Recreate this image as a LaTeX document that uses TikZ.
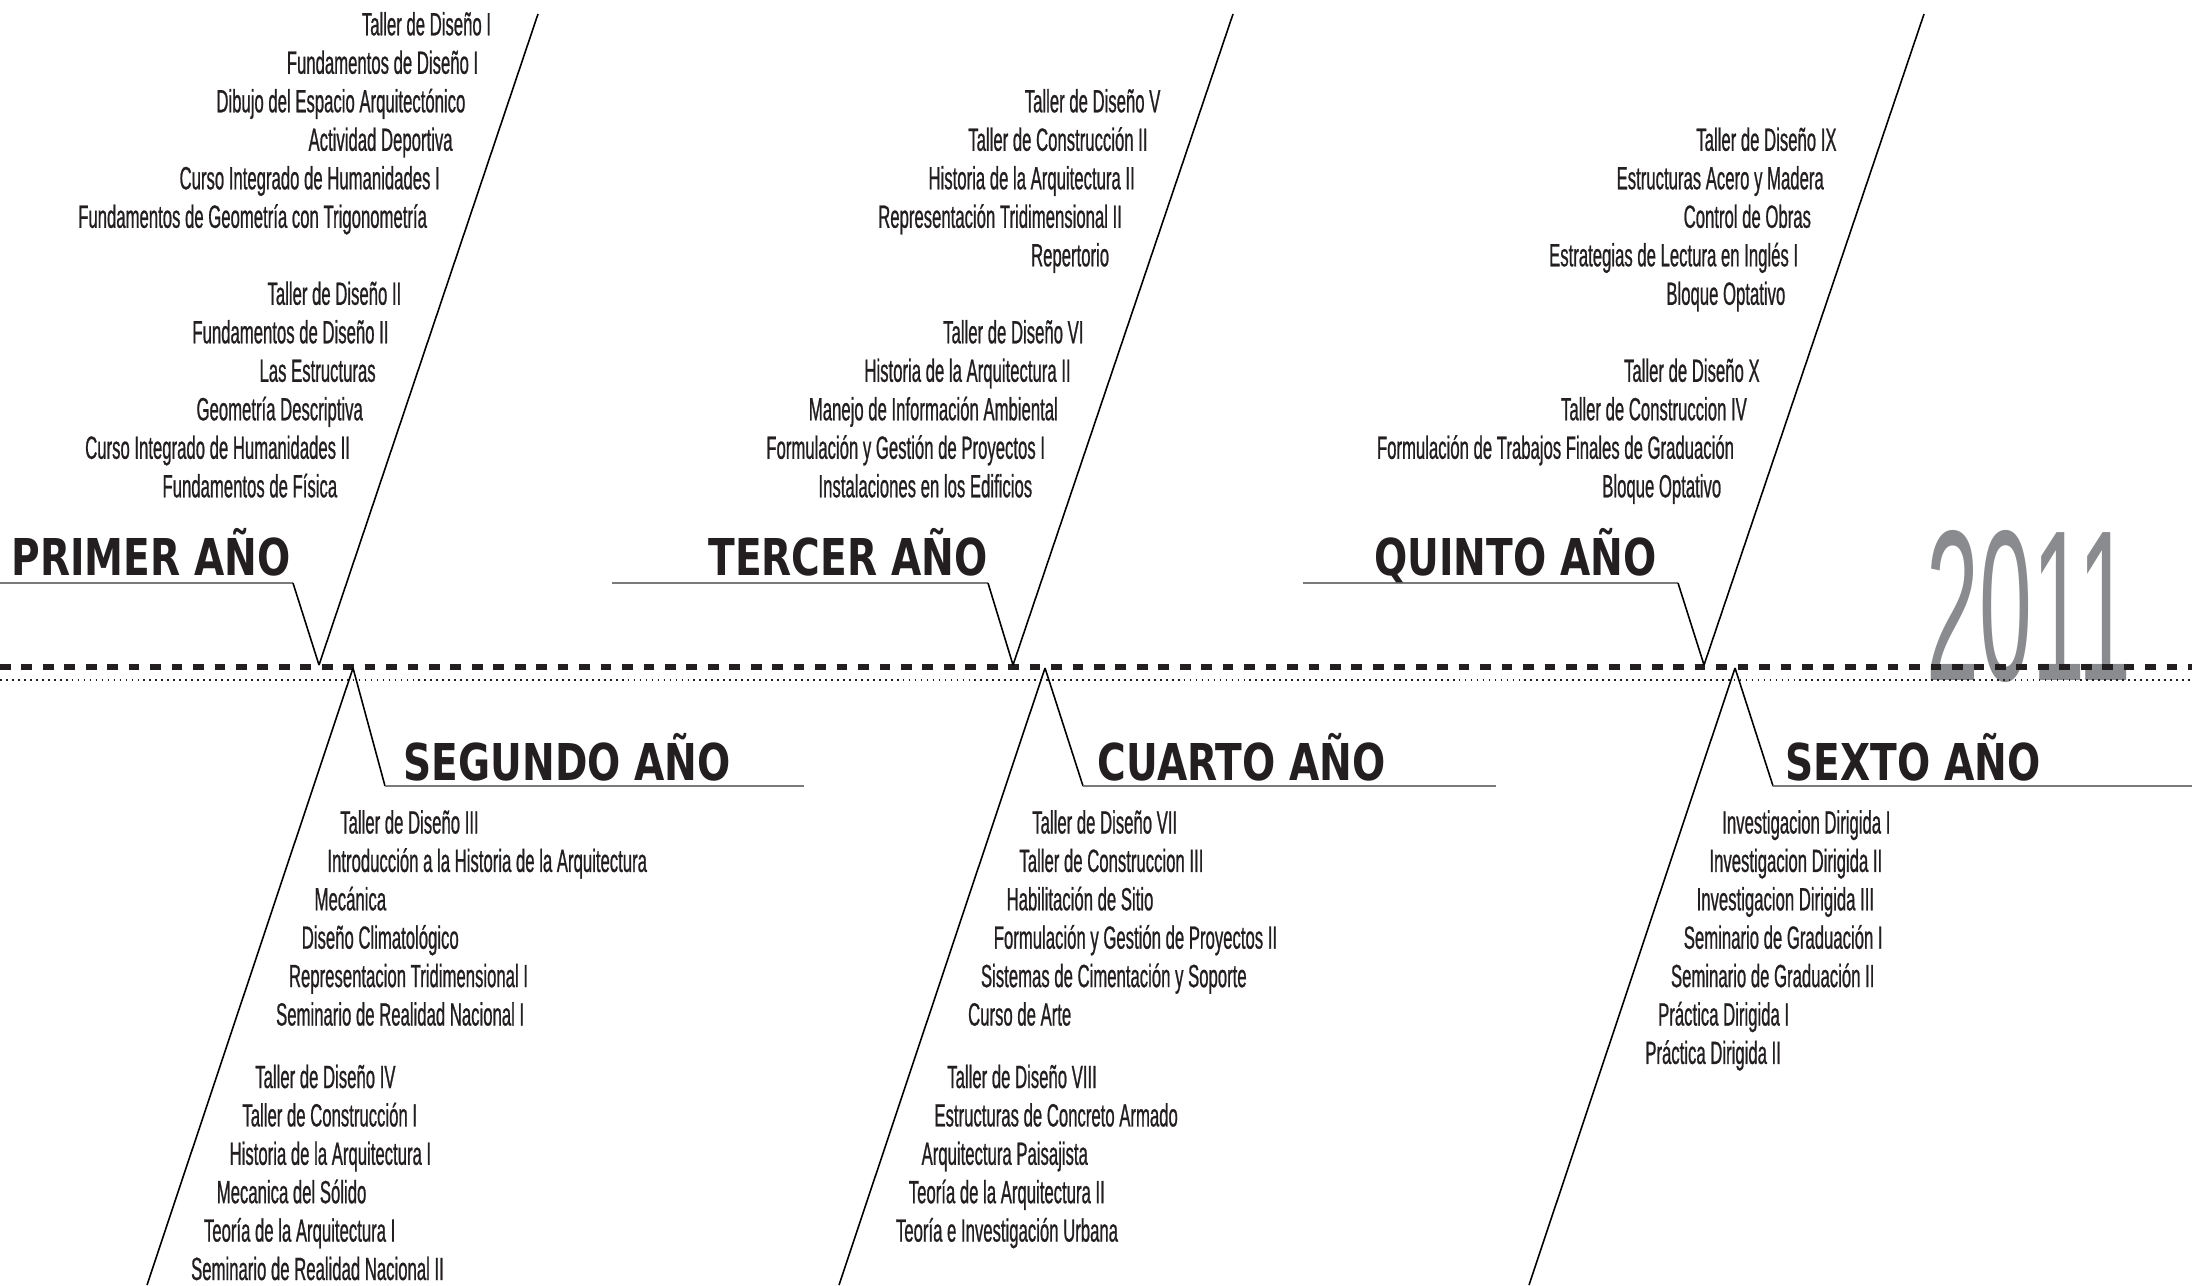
\documentclass[tikz,border=0pt]{standalone}
\usepackage{fontspec}
\usepackage{graphicx}
\newfontfamily\listfont[FakeStretch=0.52,FakeBold=0.7]{Liberation Sans}
\newfontfamily\titlefont[FakeStretch=0.77]{DejaVu Sans Bold}
\newfontfamily\yearfont{Liberation Sans}
\definecolor{ink}{HTML}{231F20}
\definecolor{yeargray}{HTML}{8A8B8E}
\definecolor{rulegray}{HTML}{7A7A7A}
\begin{document}
\begin{tikzpicture}[x=0.01cm,y=-0.01cm,
  itemR/.style={anchor=base east, inner sep=0pt, text=ink, font={\listfont\fontsize{9.14}{11}\selectfont}},
  itemL/.style={anchor=base west, inner sep=0pt, text=ink, font={\listfont\fontsize{9.14}{11}\selectfont}},
  titleU/.style={anchor=base east, inner sep=0pt, text=ink, font={\titlefont\fontsize{14.44}{16}\selectfont}},
  titleL/.style={anchor=base west, inner sep=0pt, text=ink, font={\titlefont\fontsize{14.44}{16}\selectfont}},
  diag/.style={black, line width=0.45pt},
  rulegr/.style={rulegray, line width=0.6pt},
  timeline/.style={ink, line width=1.7pt, dash pattern=on 3.05pt off 3.05pt},
  dotline/.style={ink, line width=0.5pt, dash pattern=on 0.5pt off 1.2pt}]
\useasboundingbox (0,0) rectangle (2192,1285);

% year
\node[anchor=south west, inner sep=0pt, text=yeargray] (year) at (1926,683) {\resizebox{2.04cm}{1.50cm}{\yearfont 2011}};

% timeline
\coordinate (tlA) at (0,667);
\coordinate (tlB) at (2192,667);
\coordinate (dlA) at (0,680);
\coordinate (dlB) at (2192,680);
\draw[timeline] (tlA) -- (tlB);
\draw[dotline] (dlA) -- (dlB);

% upper sections
\coordinate (u1top) at (538,14);   \coordinate (u1) at (319,665);
\coordinate (u1ra) at (0,583);     \coordinate (u1rb) at (293,583);
\coordinate (u2top) at (1233,14);  \coordinate (u2) at (1013,665);
\coordinate (u2ra) at (612,583);   \coordinate (u2rb) at (988,583);
\coordinate (u3top) at (1924,14);  \coordinate (u3) at (1704,665);
\coordinate (u3ra) at (1303,583);  \coordinate (u3rb) at (1678,583);
\foreach \k in {1,2,3}{
  \draw[diag] (u\k top) -- (u\k);
  \draw[rulegr] (u\k ra) -- (u\k rb);
  \draw[diag] (u\k rb) -- (u\k);
}

% lower sections
\coordinate (l1) at (353,668);   \coordinate (l1bot) at (147,1285);
\coordinate (l1ra) at (385,786); \coordinate (l1rb) at (804,786);
\coordinate (l2) at (1045,668);  \coordinate (l2bot) at (839,1285);
\coordinate (l2ra) at (1083,786); \coordinate (l2rb) at (1496,786);
\coordinate (l3) at (1735,668);  \coordinate (l3bot) at (1529,1285);
\coordinate (l3ra) at (1773,786); \coordinate (l3rb) at (2192,786);
\foreach \k in {1,2,3}{
  \draw[diag] (l\k) -- (l\k bot);
  \draw[diag] (l\k) -- (l\k ra);
  \draw[rulegr] (l\k ra) -- (l\k rb);
}

% titles
\node[titleU] (t1) at (291,575) {PRIMER AÑO};
\node[titleU] (t3) at (988,575) {TERCER AÑO};
\node[titleU] (t5) at (1657,575) {QUINTO AÑO};
\node[titleL] (t2) at (403,780) {SEGUNDO AÑO};
\node[titleL] (t4) at (1097,780) {CUARTO AÑO};
\node[titleL] (t6) at (1785,780) {SEXTO AÑO};

% upper lists
\foreach \i/\t [count=\n] in {0/Taller de Diseño I, 1/Fundamentos de Diseño I, 2/Dibujo del Espacio Arquitectónico, 3/Actividad Deportiva, 4/Curso Integrado de Humanidades I, 5/Fundamentos de Geometría con Trigonometría, 7/Taller de Diseño II, 8/Fundamentos de Diseño II, 9/Las Estructuras, 10/Geometría Descriptiva, 11/Curso Integrado de Humanidades II, 12/Fundamentos de Física}
  \node[itemR] (pa\n) at ({538-0.333*(23.8+38.5*\i-14)-43},{35.3+38.5*\i}) {\t};

\foreach \i/\t [count=\n] in {2/Taller de Diseño V, 3/Taller de Construcción II, 4/Historia de la Arquitectura II, 5/Representación Tridimensional II, 6/Repertorio, 8/Taller de Diseño VI, 9/Historia de la Arquitectura II, 10/Manejo de Información Ambiental, 11/Formulación y Gestión de Proyectos I, 12/Instalaciones en los Edificios}
  \node[itemR] (ta\n) at ({1233-0.333*(23.8+38.5*\i-14)-43},{35.3+38.5*\i}) {\t};

\foreach \i/\t [count=\n] in {3/Taller de Diseño IX, 4/Estructuras Acero y Madera, 5/Control de Obras, 6/Estrategias de Lectura en Inglés I, 7/Bloque Optativo, 9/Taller de Diseño X, 10/Taller de Construccion IV, 11/Formulación de Trabajos Finales de Graduación, 12/Bloque Optativo}
  \node[itemR] (qa\n) at ({1924-0.333*(23.8+38.5*\i-14)-45},{35.3+38.5*\i}) {\t};

% lower lists
\foreach \y/\t [count=\n] in {822/Taller de Diseño III, 860.4/Introducción a la Historia de la Arquitectura, 898.8/Mecánica, 937.2/Diseño Climatológico, 975.6/Representacion Tridimensional I, 1014/Seminario de Realidad Nacional I, 1076.5/Taller de Diseño IV, 1114.9/Taller de Construcción I, 1153.3/Historia de la Arquitectura I, 1191.7/Mecanica del Sólido, 1230.1/Teoría de la Arquitectura I, 1268.5/Seminario de Realidad Nacional II}
  \node[itemL] (sa\n) at ({353-0.334*(\y-668)+38},{\y+11.5}) {\t};

\foreach \y/\t [count=\n] in {822/Taller de Diseño VII, 860.4/Taller de Construccion III, 898.8/Habilitación de Sitio, 937.2/Formulación y Gestión de Proyectos II, 975.6/Sistemas de Cimentación y Soporte, 1014/Curso de Arte, 1076.5/Taller de Diseño VIII, 1114.9/Estructuras de Concreto Armado, 1153.3/Arquitectura Paisajista, 1191.7/Teoría de la Arquitectura II, 1230.1/Teoría e Investigación Urbana}
  \node[itemL] (ca\n) at ({1045-0.334*(\y-668)+38},{\y+11.5}) {\t};

\foreach \y/\t [count=\n] in {822/Investigacion Dirigida I, 860.4/Investigacion Dirigida II, 898.8/Investigacion Dirigida III, 937.2/Seminario de Graduación I, 975.6/Seminario de Graduación II, 1014/Práctica Dirigida I, 1052.4/Práctica Dirigida II}
  \node[itemL] (xa\n) at ({1735-0.334*(\y-668)+38},{\y+11.5}) {\t};
\end{tikzpicture}
\end{document}
